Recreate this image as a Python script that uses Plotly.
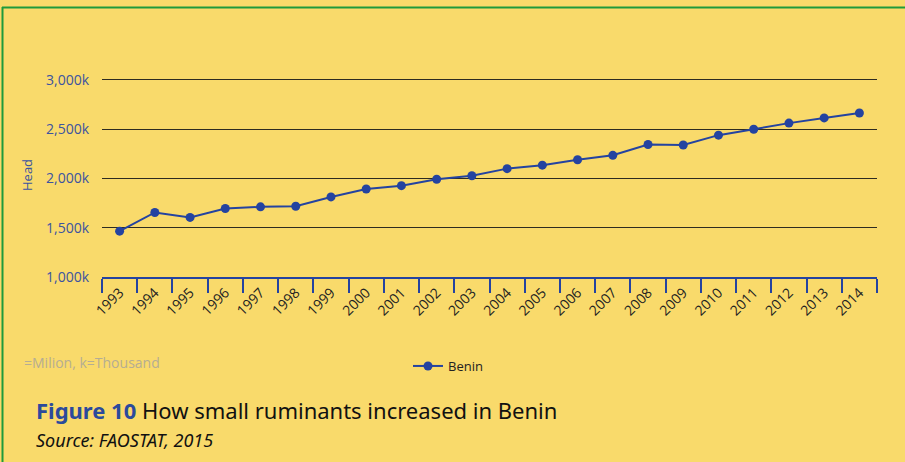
import plotly.graph_objects as go

years = [str(y) for y in range(1993, 2015)]
benin = [1465, 1655, 1605, 1695, 1712, 1718, 1813, 1893, 1927, 1992, 2028,
         2100, 2135, 2190, 2235, 2345, 2340, 2440, 2500, 2562, 2615, 2665]
y_ticks = [1000, 1500, 2000, 2500, 3000]
y_tick_labels = ["1,000k", "1,500k", "2,000k", "2,500k", "3,000k"]

BG = "#F9DA6B"
BLUE = "#2443A0"
TXTBLUE = "#3B53A0"

# plot area in pixels
L, R, T, B = 102, 877, 78, 277
W, H = 905, 462
YMIN, YMAX = 1000, 3020
def px(x):
    return (x - L) / (R - L)
def py(y):
    return (B - y) / (B - T)

fig = go.Figure()
fig.add_trace(go.Scatter(
    x=years, y=benin, mode="lines+markers", name="Benin",
    line=dict(color=BLUE, width=2),
    marker=dict(color=BLUE, size=9),
))

fig.update_layout(
    width=W, height=H,
    paper_bgcolor=BG, plot_bgcolor=BG,
    margin=dict(l=L, r=W - R, t=T, b=H - B),
    font=dict(family="Open Sans", size=12, color="#222"),
    showlegend=True,
    legend=dict(orientation="h", x=px(448), y=py(366), xanchor="center", yanchor="middle",
                itemwidth=30,
                bgcolor="rgba(0,0,0,0)", font=dict(size=13, color="#222")),
    xaxis=dict(
        type="category", range=[-0.5, 21.5],
        showgrid=False, showline=True, linecolor=BLUE, linewidth=2,
        ticks="outside", tickson="boundaries", ticklen=14, tickwidth=2, tickcolor=BLUE,
        tickangle=-45, tickfont=dict(size=14, color="#222"),
        zeroline=False,
    ),
    yaxis=dict(
        range=[YMIN, YMAX], tickvals=y_ticks, ticktext=y_tick_labels,
        showgrid=True, gridcolor="#2e2b20", gridwidth=1,
        showline=False, zeroline=False, ticks="",
        tickfont=dict(size=14, color=TXTBLUE), ticklabelstandoff=12,
    ),
    shapes=[
        dict(type="line", xref="paper", yref="paper", x0=px(2), x1=px(910), y0=py(7.5), y1=py(7.5),
             line=dict(color="#1E9A3C", width=2)),
        dict(type="line", xref="paper", yref="paper", x0=px(2.5), x1=px(2.5), y0=py(7), y1=py(470),
             line=dict(color="#1E9A3C", width=2)),
    ],
    annotations=[
        dict(text="Head", xref="paper", yref="paper", x=px(27), y=py(175), textangle=-90,
             showarrow=False, font=dict(size=13, color=TXTBLUE), xanchor="center", yanchor="middle"),
        dict(text="=Milion, k=Thousand", xref="paper", yref="paper", x=px(22), y=py(362),
             showarrow=False, font=dict(size=14, color="#B5AD93"), xanchor="left", yanchor="middle"),
        dict(text="<b><span style='color:#2B4A9C'>Figure 10</span></b> How small ruminants increased in Benin",
             xref="paper", yref="paper", x=px(34), y=py(410),
             showarrow=False, font=dict(size=22, color="#111", family="Noto Sans"), xanchor="left", yanchor="middle"),
        dict(text="<i>Source: FAOSTAT, 2015</i>", xref="paper", yref="paper", x=px(34), y=py(440),
             showarrow=False, font=dict(size=18, color="#111", family="Noto Sans"), xanchor="left", yanchor="middle"),
    ],
)

fig.write_html("out.html")
